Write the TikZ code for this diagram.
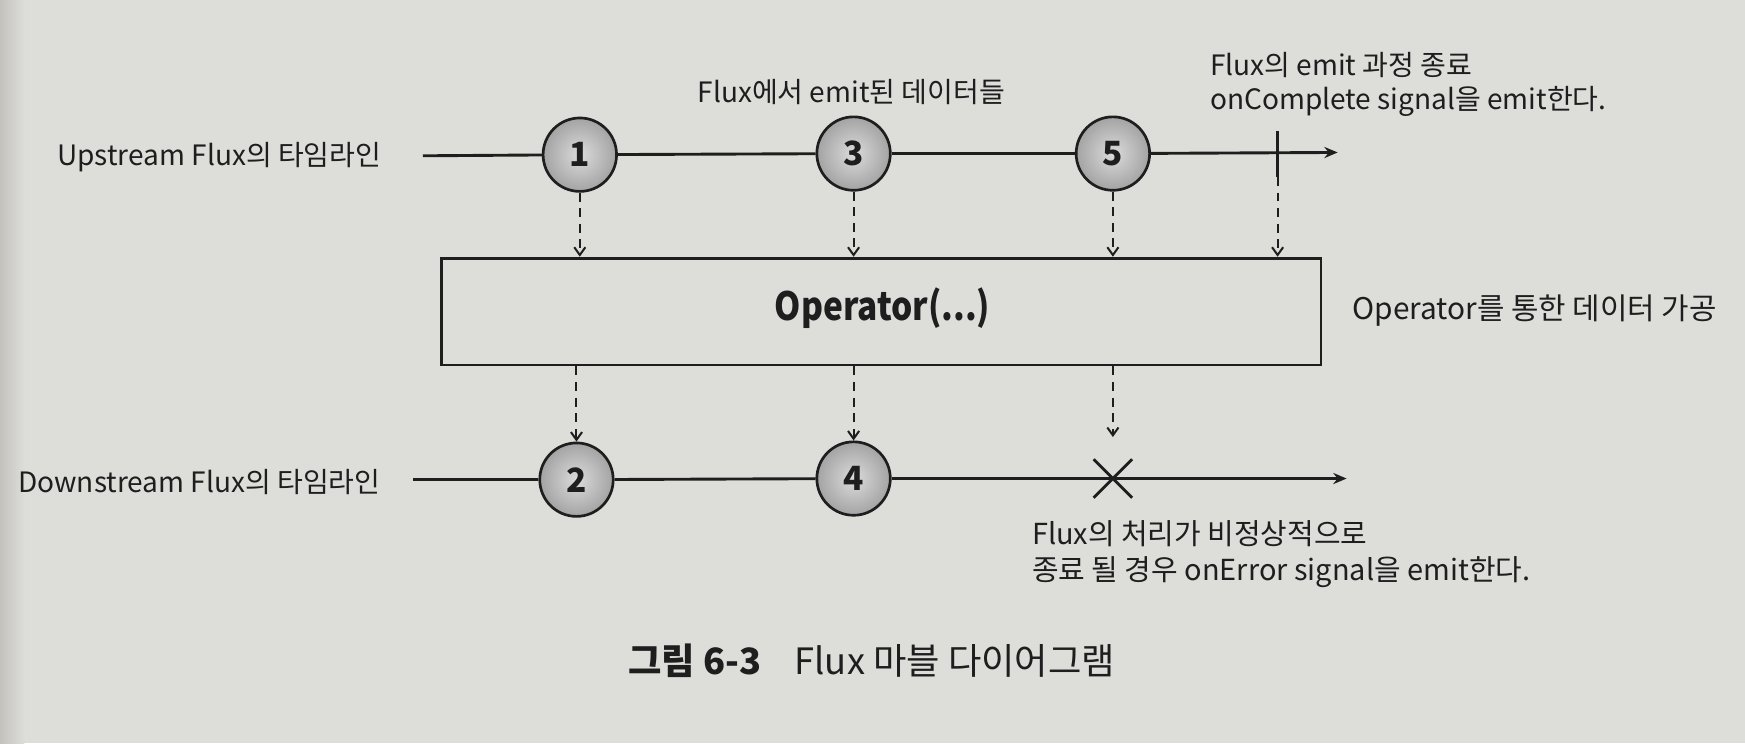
\documentclass[tikz,border=0pt]{standalone}
\usepackage{graphicx}
\usepackage{fontspec}
\setmainfont{Noto Sans CJK KR}
\usetikzlibrary{arrows.meta,shapes.misc}
\definecolor{paper}{RGB}{221,221,218}
\definecolor{paperedge}{RGB}{196,194,188}
\definecolor{ink}{RGB}{30,30,30}
\begin{document}
\begin{tikzpicture}[x=0.5pt,y=-0.5pt,
  ball/.style={circle, draw=ink, line width=1.2pt, minimum size=33pt, inner sep=0pt,
    inner color=gray!28, outer color=gray!72, font=\fontsize{15}{15}\selectfont\bfseries, text=ink},
  tline/.style={draw=ink, line width=1.3pt},
  tarrow/.style={tline, -{Stealth[length=6pt,width=5pt]}},
  dsh/.style={draw=ink, line width=0.9pt, dash pattern=on 4pt off 3pt, -{Straight Barb[length=3.5pt,width=5pt]}},
  lbl/.style={font=\fontsize{12.6}{15}\selectfont, text=ink, inner sep=0pt, align=left},
  opbox/.style={draw=ink, line width=1.3pt, minimum width=395pt, minimum height=48pt, inner sep=0pt},
  errx/.style={cross out, draw=ink, line width=1.3pt, minimum size=16pt, inner sep=0pt}
]
\fill[paper] (0,0) rectangle (1568,668);
\shade[left color=paperedge, right color=paper] (0,0) rectangle (22,668);
\useasboundingbox (0,0) rectangle (1568,668);

% upstream timeline
\node[lbl, anchor=west] (uplbl) at (51,141) {Upstream Flux의 타임라인};
\coordinate (us) at (380,140);
\coordinate (ue) at (1202,137);
\node[ball] (c1) at (521,139) {1};
\node[ball] (c3) at (767,138) {3};
\node[ball] (c5) at (1000,138) {5};
\coordinate (tkt) at (1148,118);
\coordinate (tkb) at (1148,159);
\draw[tline] (us) -- (c1);
\draw[tline] (c1) -- (c3);
\draw[tline] (c3) -- (c5);
\draw[tarrow] (c5) -- (ue);
\draw[tline] (tkt) -- (tkb);

\node[lbl, anchor=center] (emitlbl) at (765,83) {Flux에서 emit된 데이터들};
\node[lbl, anchor=west] (cmplbl) at (1087,76) {Flux의 emit 과정 종료\\onComplete signal을 emit한다.};

% operator box
\node[opbox] (op) at (792,280) {};
\node[font=\fontsize{17.5}{17.5}\selectfont\bfseries, text=ink] (optxt) at (793,277) {\scalebox{0.86}[1]{Operator(...)}};
\node[lbl, anchor=west, font=\fontsize{13.4}{15}\selectfont] (oplbl) at (1215,279) {Operator를 통한 데이터 가공};

\draw[dsh] (c1.south) -- (c1.south |- op.north);
\draw[dsh] (c3.south) -- (c3.south |- op.north);
\draw[dsh] (c5.south) -- (c5.south |- op.north);
\draw[dsh] (tkb) -- (tkb |- op.north);

% downstream timeline
\node[lbl, anchor=west] (dnlbl) at (16,433) {Downstream Flux의 타임라인};
\coordinate (ds) at (371,431);
\coordinate (de) at (1210,430);
\node[ball] (c2) at (518,431) {2};
\node[ball] (c4) at (767,430) {4};
\node[errx] (err) at (1000,430) {};
\draw[tline] (ds) -- (c2);
\draw[tline] (c2) -- (c4);
\draw[tarrow] (c4) -- (de);

\draw[dsh] (c2.north |- op.south) -- (c2.north);
\draw[dsh] (c4.north |- op.south) -- (c4.north);
\draw[dsh] (err.north |- op.south) -- ([yshift=10pt]err.north);

\node[lbl, anchor=west, font=\fontsize{13}{16.5}\selectfont] (errlbl) at (927,498) {Flux의 처리가 비정상적으로\\종료 될 경우 onError signal을 emit한다.};

% caption
\node[font=\fontsize{16.3}{16.3}\selectfont, text=ink, anchor=west, inner sep=0pt] (cap) at (564,594) {{\bfseries 그림 6-3}\hspace{15pt}Flux 마블 다이어그램};
\end{tikzpicture}
\end{document}
